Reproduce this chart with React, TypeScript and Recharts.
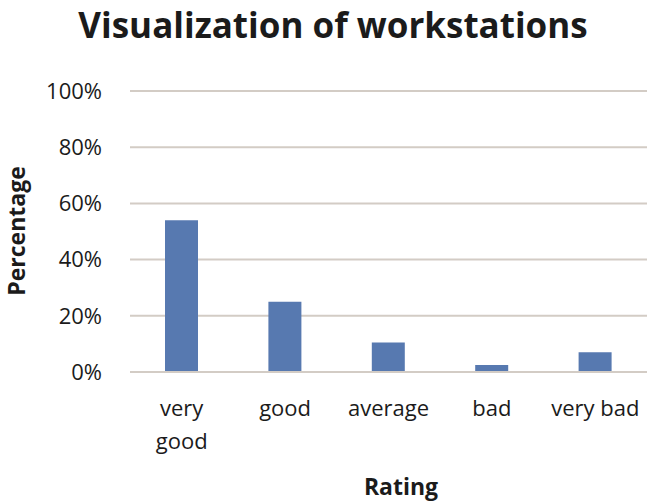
import React from "react";
import { Bar, BarChart, CartesianGrid, XAxis, YAxis } from "recharts";

const ratings = ["very good", "good", "average", "bad", "very bad"];
const tickLines = [["very", "good"], ["good"], ["average"], ["bad"], ["very bad"]];
const percentages = [54, 25, 10.5, 2.5, 7];
const yTicks = [0, 20, 40, 60, 80, 100];

const data = ratings.map((rating, i) => ({
  rating,
  value: percentages[i],
}));

const FONT = "'Open Sans', sans-serif";
const TEXT = "#1b1b1b";
const GRID = "#d3ccc5";

const RatingTick = (props: any) => {
  const { x, y, index } = props;
  const lines = tickLines[index] || [];
  return (
    <text
      x={x}
      y={y}
      textAnchor="middle"
      fill={TEXT}
      style={{ fontFamily: FONT, fontSize: 22 }}
    >
      {lines.map((line, i) => (
        <tspan key={i} x={x} dy={i === 0 ? 44 : 33}>
          {line}
        </tspan>
      ))}
    </text>
  );
};

export default function App() {
  return (
    <div
      style={{
        position: "absolute",
        left: 0,
        top: 0,
        width: 669,
        height: 502,
        background: "#fff",
        fontFamily: FONT,
        color: TEXT,
      }}
    >
      <div
        style={{
          position: "absolute",
          left: 0,
          width: 666,
          top: 0,
          textAlign: "center",
          fontWeight: 700,
          fontSize: 35,
          lineHeight: "50px",
        }}
      >
        Visualization of workstations
      </div>
      <div
        style={{
          position: "absolute",
          left: 16,
          top: 231,
          transform: "translate(-50%, -50%) rotate(-90deg)",
          fontWeight: 700,
          fontSize: 23,
          whiteSpace: "nowrap",
        }}
      >
        Percentage
      </div>
      <div
        style={{
          position: "absolute",
          left: 401,
          top: 486,
          transform: "translate(-50%, -50%)",
          fontWeight: 700,
          fontSize: 23,
        }}
      >
        Rating
      </div>
      <BarChart
        width={669}
        height={502}
        data={data}
        margin={{ top: 91, right: 22, bottom: 0, left: 0 }}
        style={{ position: "absolute", left: 0, top: 0 }}
      >
        <CartesianGrid vertical={false} stroke={GRID} strokeWidth={2} />
        <XAxis
          dataKey="rating"
          axisLine={{ stroke: GRID, strokeWidth: 2 }}
          tickLine={false}
          tickSize={0}
          tickMargin={0}
          interval={0}
          height={130}
          tick={<RatingTick />}
        />
        <YAxis
          domain={[0, 100]}
          ticks={yTicks}
          interval={0}
          width={130}
          axisLine={false}
          tickLine={false}
          tickSize={0}
          tickMargin={28}
          tickFormatter={(v: number) => `${v}%`}
          tick={{ fill: TEXT, fontSize: 22, fontFamily: FONT }}
        />
        <Bar
          dataKey="value"
          fill="#5779b0"
          barSize={33}
          isAnimationActive={false}
        />
      </BarChart>
    </div>
  );
}
